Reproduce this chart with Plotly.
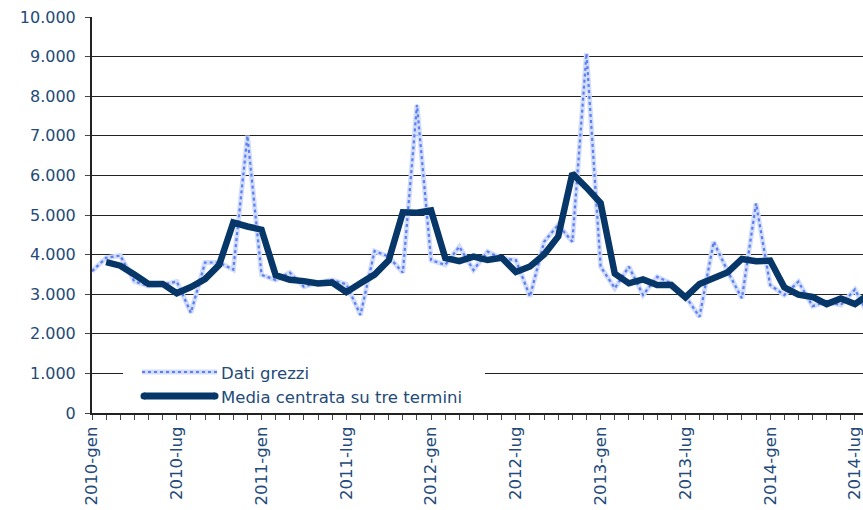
import plotly.graph_objects as go

# ---------------- data ----------------
months_it = ["gen", "feb", "mar", "apr", "mag", "giu", "lug", "ago", "set", "ott", "nov", "dic"]
years = [2010, 2011, 2012, 2013, 2014]
categories = [f"{y}-{m}" for y in years for m in months_it][:57]

dati_grezzi = [
    3580, 3920, 3975, 3320, 3210, 3240, 3320, 2530, 3800, 3800, 3620, 7000,
    3490, 3360, 3545, 3190, 3300, 3360, 3250, 2475, 4090, 3950, 3545, 7780,
    3860, 3740, 4200, 3610, 4075, 3900, 3860, 2940, 4325, 4750, 4325, 9080,
    3695, 3150, 3695, 2980, 3440, 3275, 2950, 2430, 4325, 3570, 2895, 5295,
    3232, 2980, 3315, 2700, 2810, 2727, 3120, 2450, 3430,
]

media_centrata = [
    None, 3810, 3720, 3495, 3260, 3260, 3025, 3180, 3380, 3740, 4810, 4710,
    4630, 3480, 3365, 3330, 3270, 3295, 3050, 3275, 3495, 3855, 5070, 5055,
    5115, 3915, 3835, 3950, 3862, 3920, 3560, 3700, 4000, 4460, 6050, 5690,
    5300, 3520, 3275, 3373, 3232, 3230, 2920, 3260, 3400, 3555, 3890, 3830,
    3850, 3175, 2990, 2930, 2750, 2890, 2750, 3000,
]

tick_labels = ["2010-gen", "2010-lug", "2011-gen", "2011-lug", "2012-gen",
               "2012-lug", "2013-gen", "2013-lug", "2014-gen", "2014-lug"]

series_names = ["Dati grezzi", "Media centrata su tre termini"]

# ---------------- style ----------------
W, H = 863, 510
L, R, T, B = 92, 863, 17, 413
TXT = "#234a78"
NAVY = "#063768"
DOT = "#5a80f0"
BAND = "#d3ddfb"
FONT = "DejaVu Sans"


def pxx(p):
    return (p - L) / (R - L)


def pxy(p):
    return (B - p) / (B - T)


fig = go.Figure()

fig.add_trace(go.Scatter(
    x=categories[:len(dati_grezzi)], y=dati_grezzi, mode="lines",
    line=dict(color=BAND, width=5), showlegend=False, hoverinfo="skip"))
fig.add_trace(go.Scatter(
    x=categories[:len(dati_grezzi)], y=dati_grezzi, mode="lines",
    name=series_names[0], line=dict(color=DOT, width=2.2, dash="dot"),
    showlegend=False))
fig.add_trace(go.Scatter(
    x=categories[:len(media_centrata)], y=media_centrata, mode="lines",
    name=series_names[1], line=dict(color=NAVY, width=6.5),
    connectgaps=False, showlegend=False))

ticktext = [c if c in tick_labels else "" for c in categories]

fig.update_xaxes(
    type="category", range=[0, 54.57], automargin=False,
    tickmode="array", tickvals=categories, ticktext=ticktext,
    tickangle=-90, ticks="outside", ticklen=5, tickcolor="#444", tickwidth=1,
    showline=True, linecolor="#222", linewidth=2,
    showgrid=False, zeroline=False,
    tickfont=dict(family=FONT, size=16.5, color=TXT),
)
fig.update_yaxes(
    range=[0, 10000], dtick=1000, tickformat=",d", automargin=False,
    ticks="outside", ticklen=5, tickcolor="#444", tickwidth=1,
    ticklabelstandoff=6,
    showline=True, linecolor="#222", linewidth=2,
    showgrid=True, gridcolor="#222", gridwidth=1, zeroline=False,
    tickfont=dict(family=FONT, size=16, color=TXT),
)

# custom legend (white box interrupting gridline, swatches, labels)
shapes = [
    dict(type="rect", xref="paper", yref="paper",
         x0=pxx(123), x1=pxx(485), y0=pxy(408), y1=pxy(355),
         fillcolor="white", line=dict(width=0), layer="above"),
    dict(type="line", xref="paper", yref="paper",
         x0=pxx(142), x1=pxx(217), y0=pxy(372), y1=pxy(372),
         line=dict(color=BAND, width=5), layer="above"),
    dict(type="line", xref="paper", yref="paper",
         x0=pxx(142), x1=pxx(217), y0=pxy(372), y1=pxy(372),
         line=dict(color=DOT, width=2.2, dash="dot"), layer="above"),
    dict(type="line", xref="paper", yref="paper",
         x0=pxx(144), x1=pxx(215), y0=pxy(396), y1=pxy(396),
         line=dict(color=NAVY, width=7), layer="above"),
]
for cx in (144, 215):
    shapes.append(dict(type="circle", xref="paper", yref="paper",
                       x0=pxx(cx - 3.5), x1=pxx(cx + 3.5),
                       y0=pxy(396 + 3.5), y1=pxy(396 - 3.5),
                       fillcolor=NAVY, line=dict(width=0), layer="above"))

annotations = [
    dict(xref="paper", yref="paper", x=pxx(219), y=pxy(373), text=series_names[0],
         showarrow=False, xanchor="left", yanchor="middle",
         font=dict(family=FONT, size=16.5, color=TXT)),
    dict(xref="paper", yref="paper", x=pxx(219), y=pxy(397), text=series_names[1],
         showarrow=False, xanchor="left", yanchor="middle",
         font=dict(family=FONT, size=16.5, color=TXT)),
]

fig.update_layout(
    width=W, height=H,
    margin=dict(l=L, r=W - R, t=T, b=H - B, pad=0),
    paper_bgcolor="white", plot_bgcolor="white",
    separators=",.",
    shapes=shapes, annotations=annotations,
    showlegend=False,
    font=dict(family=FONT, color=TXT),
)

fig.write_html(
    "out.html",
    config={"displayModeBar": False},
    post_script="document.body.style.margin='0px';document.body.style.padding='0px';",
)
